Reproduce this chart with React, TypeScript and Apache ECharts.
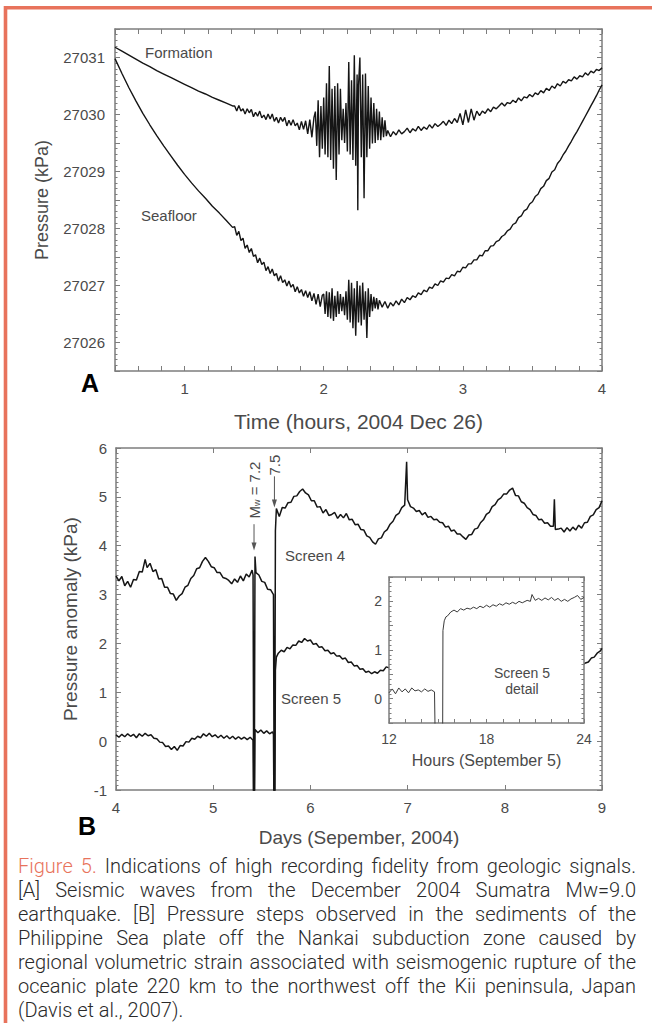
import React, { useEffect, useRef } from 'react';
import * as echarts from 'echarts';

// ---------- Panel A: pressure (kPa) vs time (hours, 2004 Dec 26) ----------
const formation: [number, number][] = [
  [0.50,27031.18],[0.55,27031.11],[0.60,27031.04],[0.65,27030.97],[0.70,27030.90],[0.75,27030.84],
  [0.80,27030.77],[0.85,27030.71],[0.90,27030.65],[0.95,27030.59],[1.00,27030.53],[1.05,27030.47],
  [1.10,27030.41],[1.15,27030.36],[1.20,27030.30],[1.25,27030.25],[1.30,27030.20],[1.345,27030.15],
  [1.360,27030.15],[1.375,27030.06],[1.390,27030.16],[1.405,27030.06],[1.420,27030.10],[1.435,27030.01],
  [1.450,27030.10],[1.465,27030.03],[1.480,27030.09],[1.495,27029.96],[1.510,27030.04],[1.525,27029.97],
  [1.540,27030.06],[1.555,27029.94],[1.570,27029.99],[1.585,27029.91],[1.600,27030.01],[1.615,27029.92],
  [1.630,27030.01],[1.645,27029.88],[1.660,27029.95],[1.675,27029.85],[1.690,27029.95],[1.705,27029.88],
  [1.720,27029.95],[1.735,27029.80],[1.750,27029.90],[1.765,27029.81],[1.780,27029.91],[1.795,27029.80],
  [1.810,27029.85],[1.825,27029.73],[1.840,27029.88],[1.855,27029.74],[1.870,27029.89],[1.885,27029.66],
  [1.900,27029.91],[1.915,27029.60],[1.930,27029.95],
  [1.94,27030.05],[1.95,27029.45],[1.96,27030.25],[1.97,27029.25],[1.98,27030.15],[1.99,27029.40],
  [2.00,27030.30],[2.01,27029.30],[2.02,27030.55],[2.03,27029.25],[2.04,27030.85],[2.05,27029.20],
  [2.06,27030.45],[2.07,27029.05],[2.08,27030.50],[2.09,27028.85],[2.10,27030.55],[2.11,27029.30],
  [2.12,27030.45],[2.13,27029.55],[2.14,27030.10],[2.15,27029.50],[2.16,27030.20],[2.17,27029.35],
  [2.18,27030.92],[2.19,27029.30],[2.20,27030.60],[2.21,27029.20],[2.22,27031.04],[2.23,27029.10],
  [2.24,27030.70],[2.245,27028.32],[2.25,27030.50],[2.26,27031.00],[2.27,27029.25],[2.28,27030.70],
  [2.29,27028.53],[2.30,27030.72],[2.31,27029.25],[2.32,27030.50],[2.33,27029.40],[2.34,27030.30],
  [2.35,27029.49],[2.36,27030.20],[2.37,27029.50],[2.38,27030.10],[2.39,27029.55],[2.40,27030.05],
  [2.41,27029.55],[2.42,27029.95],[2.43,27029.60],[2.44,27029.90],[2.45,27029.62],
  [2.46,27029.72],[2.48,27029.61],[2.50,27029.70],[2.52,27029.64],[2.54,27029.73],[2.56,27029.66],
  [2.58,27029.70],[2.60,27029.76],[2.62,27029.68],[2.64,27029.75],[2.66,27029.71],[2.68,27029.79],
  [2.70,27029.72],[2.72,27029.78],[2.74,27029.74],[2.76,27029.82],[2.78,27029.76],[2.80,27029.84],
  [2.82,27029.79],[2.84,27029.83],[2.86,27029.88],[2.88,27029.81],[2.90,27029.90],[2.92,27029.84],
  [2.94,27029.93],[2.96,27029.86],[2.98,27030.02],[3.00,27029.82],[3.02,27030.08],[3.04,27029.86],
  [3.06,27030.10],[3.08,27029.90],[3.10,27030.06],[3.12,27029.98],[3.14,27030.06],[3.16,27030.02],
  [3.18,27030.10],[3.20,27030.05],[3.22,27030.13],[3.24,27030.10],[3.26,27030.15],[3.28,27030.20],
  [3.30,27030.15],[3.32,27030.21],[3.34,27030.19],[3.36,27030.25],[3.38,27030.21],
  [3.40,27030.29],[3.42,27030.24],[3.44,27030.31],[3.46,27030.29],[3.48,27030.35],[3.50,27030.31],
  [3.52,27030.38],[3.54,27030.35],[3.56,27030.42],[3.58,27030.38],[3.60,27030.46],[3.62,27030.42],
  [3.64,27030.50],[3.66,27030.46],[3.68,27030.54],[3.70,27030.50],[3.72,27030.58],[3.74,27030.55],
  [3.76,27030.61],[3.78,27030.59],[3.80,27030.66],[3.82,27030.62],[3.84,27030.68],[3.86,27030.66],
  [3.88,27030.73],[3.90,27030.69],[3.92,27030.76],[3.94,27030.73],[3.96,27030.79],[3.98,27030.77],
  [4.00,27030.82],
];

const seafloor: [number, number][] = [
  [0.50,27030.98],[0.55,27030.72],[0.60,27030.47],[0.65,27030.24],[0.70,27030.02],[0.75,27029.82],
  [0.80,27029.63],[0.85,27029.45],[0.90,27029.28],[0.95,27029.11],[1.00,27028.95],[1.05,27028.80],
  [1.10,27028.66],[1.15,27028.53],[1.20,27028.39],[1.25,27028.27],[1.30,27028.14],[1.345,27028.02],
  [1.360,27028.03],[1.375,27027.88],[1.390,27027.95],[1.405,27027.79],[1.420,27027.83],[1.435,27027.65],
  [1.450,27027.71],[1.465,27027.58],[1.480,27027.65],[1.495,27027.51],[1.510,27027.54],[1.525,27027.40],
  [1.540,27027.48],[1.555,27027.37],[1.570,27027.41],[1.585,27027.26],[1.600,27027.33],[1.615,27027.21],
  [1.630,27027.29],[1.645,27027.17],[1.660,27027.21],[1.675,27027.08],[1.690,27027.17],[1.705,27027.05],
  [1.720,27027.10],[1.735,27026.99],[1.750,27027.08],[1.765,27026.97],[1.780,27027.02],[1.795,27026.89],
  [1.810,27026.98],[1.825,27026.87],[1.840,27026.93],[1.855,27026.81],[1.870,27026.91],[1.885,27026.79],
  [1.900,27026.89],[1.915,27026.73],[1.930,27026.86],[1.945,27026.67],[1.960,27026.85],[1.975,27026.63],
  [1.990,27026.83],
  [2.00,27026.85],[2.01,27026.50],[2.02,27026.90],[2.03,27026.45],[2.04,27026.88],[2.05,27026.42],
  [2.06,27026.95],[2.07,27026.38],[2.08,27026.82],[2.09,27026.45],[2.10,27026.90],[2.11,27026.50],
  [2.12,27026.85],[2.13,27026.55],[2.14,27026.80],[2.15,27026.48],[2.16,27026.90],[2.17,27026.40],
  [2.18,27027.10],[2.19,27026.35],[2.20,27027.05],[2.21,27026.25],[2.22,27026.95],[2.23,27026.12],
  [2.24,27027.08],[2.25,27026.35],[2.26,27027.00],[2.27,27026.30],[2.28,27027.05],[2.29,27026.40],
  [2.30,27026.90],[2.31,27026.08],[2.32,27026.95],[2.33,27026.45],[2.34,27026.85],[2.35,27026.55],
  [2.36,27026.80],[2.37,27026.60],[2.38,27026.78],[2.39,27026.58],
  [2.40,27026.74],[2.42,27026.62],[2.44,27026.72],[2.46,27026.60],[2.48,27026.70],[2.50,27026.64],
  [2.52,27026.73],[2.54,27026.66],[2.56,27026.76],[2.58,27026.70],[2.60,27026.79],[2.62,27026.75],
  [2.64,27026.82],[2.66,27026.79],[2.68,27026.87],[2.70,27026.84],[2.72,27026.92],[2.74,27026.89],
  [2.76,27026.97],[2.78,27026.95],[2.80,27027.03],[2.82,27027.00],[2.84,27027.08],[2.86,27027.06],
  [2.88,27027.13],[2.90,27027.12],[2.92,27027.19],[2.94,27027.17],[2.96,27027.25],[2.98,27027.24],
  [3.00,27027.32],[3.02,27027.31],[3.04,27027.38],[3.06,27027.38],[3.08,27027.45],[3.10,27027.45],
  [3.12,27027.53],[3.14,27027.52],[3.16,27027.61],[3.18,27027.61],[3.20,27027.69],[3.22,27027.70],
  [3.24,27027.77],[3.26,27027.79],[3.28,27027.86],[3.30,27027.89],[3.32,27027.96],[3.34,27027.99],
  [3.36,27028.07],[3.38,27028.10],[3.40,27028.19],[3.42,27028.22],[3.44,27028.31],[3.46,27028.34],
  [3.48,27028.43],[3.50,27028.47],[3.52,27028.56],[3.54,27028.60],[3.56,27028.70],[3.58,27028.74],
  [3.60,27028.84],[3.62,27028.88],[3.64,27028.99],[3.66,27029.03],[3.68,27029.14],[3.70,27029.20],
  [3.72,27029.29],[3.74,27029.36],[3.76,27029.45],[3.78,27029.53],[3.80,27029.62],[3.82,27029.70],
  [3.84,27029.79],[3.86,27029.88],[3.88,27029.97],[3.90,27030.06],[3.92,27030.15],[3.94,27030.24],
  [3.96,27030.33],[3.98,27030.43],[4.00,27030.52],
];

// ---------- Panel B: pressure anomaly (kPa) vs days (September 2004) ----------
const screen4: [number, number][] = [
  [4.00,3.38],[4.03,3.28],[4.06,3.37],[4.09,3.18],[4.12,3.27],[4.15,3.15],[4.18,3.31],[4.21,3.30],
  [4.24,3.47],[4.27,3.46],[4.30,3.72],[4.32,3.55],[4.35,3.64],[4.38,3.47],[4.41,3.51],[4.44,3.32],
  [4.47,3.33],[4.50,3.15],[4.53,3.15],[4.56,3.02],[4.59,3.01],[4.62,2.88],[4.65,2.97],[4.68,3.02],
  [4.71,3.15],[4.74,3.19],[4.77,3.33],[4.80,3.39],[4.83,3.53],[4.86,3.55],[4.89,3.68],[4.92,3.76],
  [4.95,3.68],[4.98,3.57],[5.01,3.55],[5.04,3.45],[5.07,3.45],[5.10,3.35],[5.13,3.33],[5.16,3.29],
  [5.19,3.22],[5.22,3.32],[5.25,3.25],[5.28,3.38],[5.31,3.28],[5.34,3.42],[5.37,3.36],[5.40,3.50],
  [5.41,3.40],[5.42,-3.00],[5.43,3.78],[5.44,3.45],[5.47,3.40],[5.50,3.27],[5.53,3.25],[5.56,3.11],
  [5.59,3.10],[5.62,3.00],[5.63,-3.00],[5.64,4.30],[5.65,4.76],[5.68,4.60],[5.71,4.78],[5.74,4.77],
  [5.77,4.88],[5.80,4.89],[5.83,5.01],[5.86,5.02],[5.89,5.11],[5.92,5.16],[5.95,5.08],[5.98,5.04],
  [6.01,4.92],[6.04,4.92],[6.07,4.79],[6.10,4.80],[6.13,4.67],[6.16,4.74],[6.19,4.62],[6.22,4.64],
  [6.25,4.68],[6.28,4.56],[6.31,4.64],[6.34,4.57],[6.37,4.66],[6.40,4.53],[6.43,4.54],[6.46,4.43],
  [6.49,4.44],[6.52,4.33],[6.55,4.32],[6.58,4.20],[6.61,4.17],[6.64,4.08],[6.67,4.03],[6.70,4.14],
  [6.73,4.16],[6.76,4.28],[6.79,4.33],[6.82,4.44],[6.85,4.50],[6.88,4.62],[6.91,4.66],[6.94,4.78],
  [6.97,4.83],[6.99,5.72],[7.00,4.94],[7.03,4.80],[7.06,4.77],[7.09,4.70],[7.12,4.72],[7.15,4.63],
  [7.18,4.68],[7.21,4.58],[7.24,4.60],[7.27,4.53],[7.30,4.54],[7.33,4.48],[7.36,4.47],[7.39,4.38],
  [7.42,4.40],[7.45,4.30],[7.48,4.32],[7.51,4.24],[7.54,4.24],[7.57,4.18],[7.60,4.13],[7.63,4.22],
  [7.66,4.23],[7.69,4.34],[7.72,4.36],[7.75,4.47],[7.78,4.53],[7.81,4.64],[7.84,4.68],[7.87,4.80],
  [7.90,4.84],[7.93,4.94],[7.96,4.98],[7.99,5.06],[8.02,5.06],[8.05,5.14],[8.08,5.18],[8.11,5.03],
  [8.14,5.02],[8.17,4.90],[8.20,4.87],[8.23,4.78],[8.26,4.74],[8.29,4.64],[8.32,4.62],[8.35,4.53],
  [8.38,4.54],[8.41,4.46],[8.44,4.47],[8.47,4.40],[8.50,4.40],[8.51,4.95],[8.52,4.33],[8.55,4.34],
  [8.58,4.36],[8.61,4.28],[8.64,4.37],[8.67,4.30],[8.70,4.38],[8.73,4.32],[8.76,4.42],[8.79,4.36],
  [8.82,4.47],[8.85,4.48],[8.88,4.60],[8.91,4.63],[8.94,4.74],[8.97,4.78],[9.00,4.92],
];

const screen5: [number, number][] = [
  [4.00,0.13],[4.03,0.08],[4.06,0.14],[4.09,0.09],[4.12,0.15],[4.15,0.10],[4.18,0.14],[4.21,0.07],
  [4.24,0.15],[4.27,0.10],[4.30,0.16],[4.33,0.11],[4.36,0.13],[4.39,0.06],[4.42,0.05],[4.45,-0.02],
  [4.48,-0.03],[4.51,-0.11],[4.54,-0.10],[4.57,-0.17],[4.60,-0.11],[4.63,-0.19],[4.66,-0.09],[4.69,-0.10],
  [4.72,-0.01],[4.75,-0.02],[4.78,0.06],[4.81,0.04],[4.84,0.10],[4.87,0.07],[4.90,0.15],[4.93,0.10],
  [4.96,0.16],[4.99,0.09],[5.02,0.13],[5.05,0.07],[5.08,0.12],[5.11,0.06],[5.14,0.11],[5.17,0.05],
  [5.20,0.10],[5.23,0.04],[5.26,0.09],[5.29,0.04],[5.32,0.08],[5.35,0.03],[5.38,0.08],[5.41,0.02],
  [5.42,-3.00],[5.43,0.24],[5.46,0.17],[5.49,0.23],[5.52,0.16],[5.55,0.21],[5.58,0.15],[5.61,0.19],
  [5.62,0.14],[5.63,-3.00],[5.64,1.45],[5.65,1.72],[5.67,1.80],[5.70,1.86],[5.73,1.83],[5.76,1.92],
  [5.79,1.89],[5.82,1.97],[5.85,1.96],[5.88,2.05],[5.91,2.02],[5.94,2.10],[5.97,2.05],[6.00,2.07],
  [6.03,1.98],[6.06,2.00],[6.09,1.92],[6.12,1.93],[6.15,1.85],[6.18,1.86],[6.21,1.79],[6.24,1.81],
  [6.27,1.74],[6.30,1.75],[6.33,1.68],[6.36,1.70],[6.39,1.61],[6.42,1.62],[6.45,1.54],[6.48,1.55],
  [6.51,1.47],[6.54,1.48],[6.57,1.41],[6.60,1.43],[6.63,1.38],[6.66,1.42],[6.69,1.39],[6.72,1.45],
  [6.75,1.44],[6.78,1.52],[6.81,1.50],[6.90,1.56],[7.00,1.62],[7.20,1.58],[7.40,1.50],[7.60,1.44],
  [7.80,1.60],[8.00,1.72],[8.20,1.70],[8.40,1.62],[8.60,1.58],[8.80,1.56],[8.83,1.60],[8.86,1.62],
  [8.89,1.70],[8.92,1.72],[8.95,1.80],[8.98,1.84],[9.00,1.90],
];

// ---------- Inset: Screen 5 detail, hours on September 5 ----------
const screen5Detail: [number, number][] = [
  [12.0,0.12],[12.2,0.20],[12.4,0.10],[12.6,0.22],[12.8,0.14],[13.0,0.20],[13.2,0.12],[13.4,0.22],
  [13.6,0.16],[13.8,0.18],[14.0,0.14],[14.2,0.20],[14.4,0.15],[14.6,0.18],[14.8,0.14],[14.85,-1.0],
  [15.3,-1.0],[15.32,1.40],[15.4,1.60],[15.5,1.68],[15.6,1.70],[15.8,1.78],[16.0,1.82],[16.2,1.78],
  [16.4,1.85],[16.6,1.82],[16.8,1.86],[17.0,1.84],[17.2,1.88],[17.4,1.85],[17.6,1.90],[17.8,1.87],
  [18.0,1.92],[18.2,1.88],[18.4,1.93],[18.6,1.90],[18.8,1.95],[19.0,1.92],[19.2,1.97],[19.4,1.94],
  [19.6,1.98],[19.8,1.95],[20.0,2.00],[20.2,1.97],[20.5,2.02],[20.7,2.00],[20.8,2.14],[21.0,2.02],
  [21.2,2.06],[21.4,2.02],[21.6,2.07],[21.8,2.03],[22.0,2.08],[22.2,2.02],[22.4,2.06],[22.6,2.00],
  [22.8,2.04],[23.0,2.00],[23.2,2.05],[23.4,2.08],[23.6,2.12],[23.8,2.04],[24.0,2.08],
];

const captionLines = [
  'Figure 5. Indications of high recording fidelity from geologic signals.',
  '[A] Seismic waves from the December 2004 Sumatra Mw=9.0',
  'earthquake. [B] Pressure steps observed in the sediments of the',
  'Philippine Sea plate off the Nankai subduction zone caused by',
  'regional volumetric strain associated with seismogenic rupture of the',
  'oceanic plate 220 km to the northwest off the Kii peninsula, Japan',
  '(Davis et al., 2007).',
];
const captionLead = ['Figure', '5.'];

const AX = '#7d7d7d';
const LBL = '#4a4a4a';
const FONT = 'Liberation Sans, Arial, Helvetica, sans-serif';
const ORANGE = '#e8735c';
const TRACE = '#151515';

const intLabel = (v: number) => (Math.abs(v - Math.round(v)) < 1e-3 ? String(Math.round(v)) : '');

function axis(o: any) {
  return {
    type: 'value',
    axisLine: { show: true, onZero: false, lineStyle: { color: AX, width: 1.5 } },
    axisTick: { show: true, inside: true, length: 5, lineStyle: { color: AX, width: 1 } },
    splitLine: { show: false },
    ...o,
  };
}

export default function App() {
  const ref = useRef<HTMLDivElement>(null);

  useEffect(() => {
    const el = ref.current;
    if (!el) return;
    const chart = echarts.init(el, null, { renderer: 'svg' });

    const label = (size: number, margin: number, fmt?: any) => ({
      show: true, color: LBL, fontSize: size, fontFamily: FONT, margin, formatter: fmt,
    });
    const nameStyle = (size: number) => ({ color: LBL, fontSize: size, fontFamily: FONT });
    const minor = (n: number) => ({ show: true, splitNumber: n, length: 2.5, lineStyle: { color: AX, width: 1 } });
    const insetTick = { show: true, inside: true, length: 4, lineStyle: { color: AX, width: 1 } };

    const option: any = {
      animation: false,
      backgroundColor: '#fff',
      grid: [
        { left: 115, top: 29, width: 487, height: 342 },
        { left: 116, top: 448, width: 486, height: 342 },
        { left: 389, top: 577, width: 195, height: 146, show: true, backgroundColor: '#fff', borderWidth: 0, z: 5 },
      ],
      xAxis: [
        axis({ gridIndex: 0, position: 'bottom', min: 0.5, max: 4, interval: 1 / 6,
          axisLabel: label(15, 10, intLabel),
          name: 'Time (hours, 2004 Dec 26)', nameLocation: 'middle', nameGap: 40, nameTextStyle: nameStyle(21) }),
        axis({ gridIndex: 0, position: 'top', min: 0.5, max: 4, interval: 1 / 6, axisLabel: { show: false } }),
        axis({ gridIndex: 1, position: 'bottom', min: 4, max: 9, interval: 1,
          axisLabel: label(15, 10),
          name: 'Days (Sepember, 2004)', nameLocation: 'middle', nameGap: 38, nameTextStyle: nameStyle(19) }),
        axis({ gridIndex: 1, position: 'top', min: 4, max: 9, interval: 1, axisLabel: { show: false } }),
        axis({ gridIndex: 2, position: 'bottom', min: 12, max: 24, interval: 1, z: 6, axisTick: insetTick,
          axisLabel: label(14, 9, (v: number) => (v % 6 === 0 ? String(v) : '')),
          name: 'Hours (September 5)', nameLocation: 'middle', nameGap: 29, nameTextStyle: nameStyle(16) }),
        axis({ gridIndex: 2, position: 'top', min: 12, max: 24, interval: 1, z: 6, axisTick: insetTick,
          axisLabel: { show: false } }),
      ],
      yAxis: [
        axis({ gridIndex: 0, position: 'left', min: 27025.5, max: 27031.5, interval: 0.5,
          minorTick: minor(5), axisLabel: label(15, 10, intLabel),
          name: 'Pressure (kPa)', nameLocation: 'middle', nameGap: 64, nameTextStyle: nameStyle(18) }),
        axis({ gridIndex: 0, position: 'right', min: 27025.5, max: 27031.5, interval: 0.5,
          minorTick: minor(5), axisLabel: { show: false } }),
        axis({ gridIndex: 1, position: 'left', min: -1, max: 6, interval: 1,
          minorTick: minor(10), axisLabel: label(15, 9),
          name: 'Pressure anomaly (kPa)', nameLocation: 'middle', nameGap: 36, nameTextStyle: nameStyle(19) }),
        axis({ gridIndex: 1, position: 'right', min: -1, max: 6, interval: 1,
          minorTick: minor(10), axisLabel: { show: false } }),
        axis({ gridIndex: 2, position: 'left', min: -0.5, max: 2.5, interval: 0.5, z: 6, axisTick: insetTick,
          minorTick: minor(5), axisLabel: label(14, 7, intLabel) }),
        axis({ gridIndex: 2, position: 'right', min: -0.5, max: 2.5, interval: 0.5, z: 6, axisTick: insetTick,
          minorTick: minor(5), axisLabel: { show: false } }),
      ],
      series: [
        { name: 'Formation', type: 'line', xAxisIndex: 0, yAxisIndex: 0, data: formation, symbol: 'none',
          lineStyle: { color: TRACE, width: 1.4 }, silent: true },
        { name: 'Seafloor', type: 'line', xAxisIndex: 0, yAxisIndex: 0, data: seafloor, symbol: 'none',
          lineStyle: { color: TRACE, width: 1.4 }, silent: true },
        { name: 'Screen 4', type: 'line', xAxisIndex: 2, yAxisIndex: 2, data: screen4, symbol: 'none',
          lineStyle: { color: TRACE, width: 1.5 }, silent: true },
        { name: 'Screen 5', type: 'line', xAxisIndex: 2, yAxisIndex: 2, data: screen5, symbol: 'none',
          lineStyle: { color: TRACE, width: 1.5 }, silent: true },
        { name: 'Screen 5 detail', type: 'line', xAxisIndex: 4, yAxisIndex: 4, data: screen5Detail, symbol: 'none',
          lineStyle: { color: '#3a3a3a', width: 1 }, silent: true, z: 7 },
      ],
    };
    chart.setOption(option);

    const px = (pt: [number, number]) => chart.convertToPixel({ xAxisIndex: 2, yAxisIndex: 2 } as any, pt) as number[];

    const txt = (text: string, x: number, y: number, size: number, extra: any = {}) => ({
      type: 'text', x, y, silent: true, z: 10,
      style: { text, fontSize: size, fontFamily: FONT, fill: LBL, textAlign: 'left', textVerticalAlign: 'middle', ...extra },
    });

    const graphics: any[] = [
      { type: 'line', silent: true, z: 10, shape: { x1: 4, y1: 7.7, x2: 652, y2: 7.7 }, style: { stroke: ORANGE, lineWidth: 3.4 } },
      { type: 'line', silent: true, z: 10, shape: { x1: 5.5, y1: 6, x2: 5.5, y2: 1023 }, style: { stroke: ORANGE, lineWidth: 3.6 } },
      txt('A', 90, 383, 25, { fill: '#000', fontWeight: 'bold', textAlign: 'center' }),
      txt('B', 87, 826, 25, { fill: '#000', fontWeight: 'bold', textAlign: 'center' }),
      txt('Formation', 145, 52, 15),
      txt('Seafloor', 141, 215, 15),
      txt('Screen 4', 285, 555, 15),
      txt('Screen 5', 281, 698, 15),
      { ...txt('Screen 5', 522, 673, 14, { textAlign: 'center' }), z: 12 },
      { ...txt('detail', 522, 689, 14, { textAlign: 'center' }), z: 12 },
    ];

    // Earthquake markers
    const m1t = px([5.42, 5.14]);
    const m1a = px([5.42, 4.44]);
    const m1b = px([5.42, 3.9]);
    const m2t = px([5.63, 5.65]);
    const m2a = px([5.63, 5.42]);
    const m2b = px([5.63, 4.78]);
    graphics.push({
      type: 'text', x: m1t[0], y: m1t[1], rotation: Math.PI / 2, silent: true, z: 10,
      style: {
        text: '{m|M}{s|w}{m| = 7.2}', textAlign: 'center', textVerticalAlign: 'middle', fill: LBL,
        rich: {
          m: { fontSize: 15, fontFamily: FONT, fill: LBL },
          s: { fontSize: 9, fontFamily: FONT, fill: LBL, verticalAlign: 'bottom' },
        },
      },
    });
    graphics.push({ ...txt('7.5', m2t[0], m2t[1], 15, { textAlign: 'center' }), rotation: Math.PI / 2 });
    for (const [a, b] of [[m1a, m1b], [m2a, m2b]]) {
      graphics.push({ type: 'line', silent: true, z: 10, shape: { x1: a[0], y1: a[1], x2: b[0], y2: b[1] - 6 }, style: { stroke: '#555', lineWidth: 1 } });
      graphics.push({ type: 'polygon', silent: true, z: 10, shape: { points: [[b[0] - 2.5, b[1] - 8], [b[0] + 2.5, b[1] - 8], [b[0], b[1]]] }, style: { fill: '#555' } });
    }

    // Caption, justified like the printed figure
    const capSize = 20;
    const capFont = `300 ${capSize}px Roboto`;
    const ctx = document.createElement('canvas').getContext('2d');
    const measure = (s: string) => {
      if (!ctx) return s.length * capSize * 0.47;
      ctx.font = capFont;
      return ctx.measureText(s).width;
    };
    const capLeft = 18;
    const capRight = 636;
    captionLines.forEach((line, i) => {
      const y = 866 + i * 24;
      const words = line.split(' ');
      const last = i === captionLines.length - 1;
      const widths = words.map(measure);
      const total = widths.reduce((s, w) => s + w, 0);
      const gap = last ? measure(' ') : Math.max(measure(' '), (capRight - capLeft - total) / (words.length - 1));
      let x = capLeft;
      words.forEach((w, k) => {
        const orange = i === 0 && k < captionLead.length;
        graphics.push({
          type: 'text', x, y, silent: true, z: 10,
          style: { text: w, fontSize: capSize, fontFamily: 'Roboto', fontWeight: 300, fill: orange ? ORANGE : '#2a2a2a',
            textAlign: 'left', textVerticalAlign: 'middle' },
        });
        x += widths[k] + gap;
      });
    });

    chart.setOption({ graphic: graphics });

    return () => chart.dispose();
  }, []);

  return (
    <div
      ref={ref}
      style={{ position: 'absolute', left: 0, top: 0, width: 652, height: 1023, background: '#fff' }}
    />
  );
}
